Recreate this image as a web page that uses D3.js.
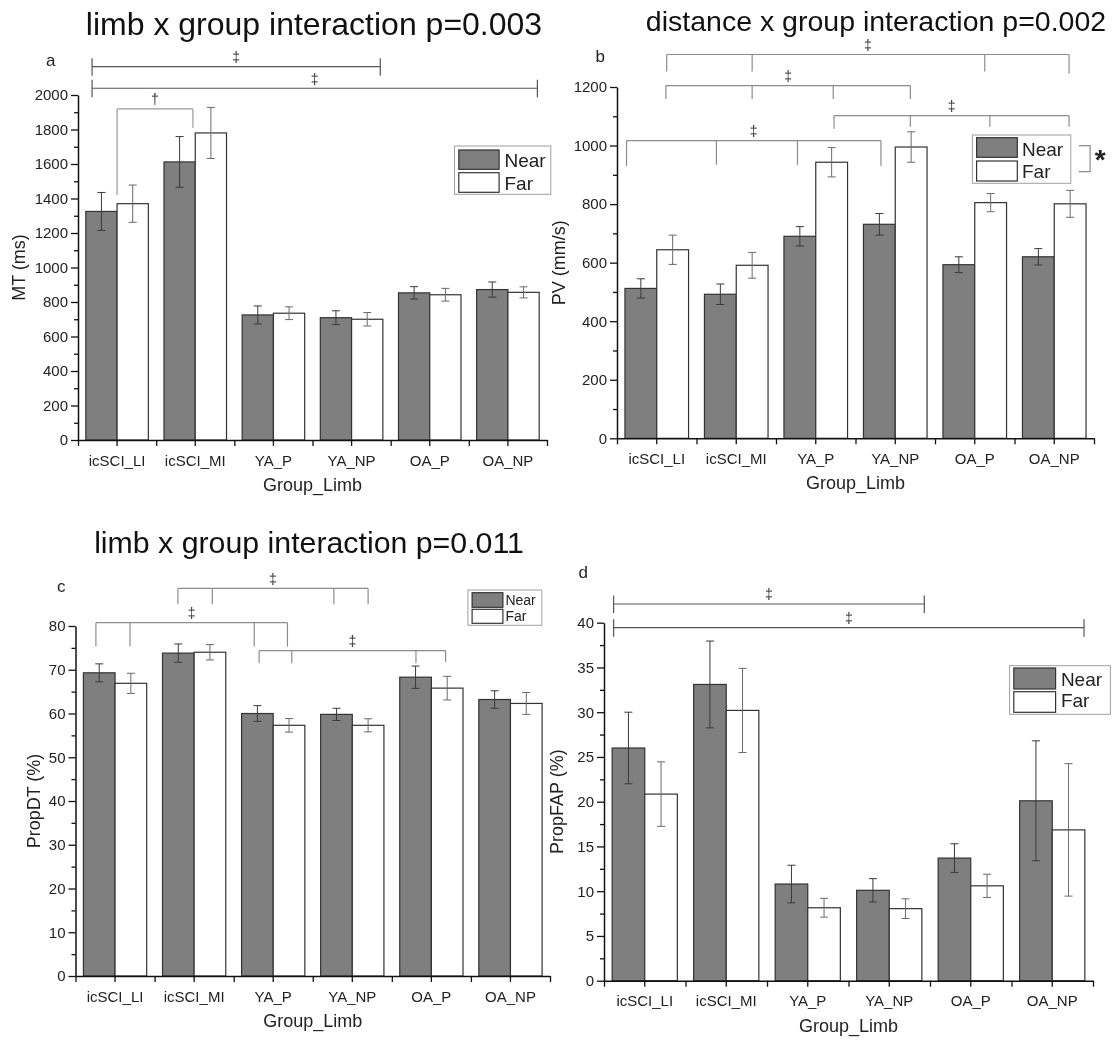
<!DOCTYPE html>
<html>
<head>
<meta charset="utf-8">
<script src="https://cdn.jsdelivr.net/npm/d3@7"></script>
<style>
  body { margin: 0; background: #fff; }
  svg { will-change: transform; }
  text { font-family: Arial, "Liberation Sans", sans-serif; }
</style>
</head>
<body>
<svg id="fig" width="1115" height="1041"></svg>
<script>
// ---- data ----
const categories = ["icSCI_LI", "icSCI_MI", "YA_P", "YA_NP", "OA_P", "OA_NP"];
const series = ["Near", "Far"];

// (a) movement time, ms
const mtNear    = [1325, 1612, 725, 709, 853, 872];
const mtNearErr = [110, 147, 52, 40, 36, 44];
const mtFar     = [1370, 1780, 735, 700, 842, 856];
const mtFarErr  = [108, 148, 37, 39, 37, 32];

// (b) peak velocity, mm/s
const pvNear    = [512, 492, 690, 731, 593, 620];
const pvNearErr = [33, 35, 33, 37, 27, 28];
const pvFar     = [644, 591, 943, 995, 805, 801];
const pvFarErr  = [50, 44, 50, 52, 31, 46];

// (c) proportion of deceleration time, %
const dtNear    = [69.3, 73.8, 60.0, 59.8, 68.3, 63.2];
const dtNearErr = [2.05, 2.1, 1.8, 1.4, 2.55, 2.0];
const dtFar     = [66.9, 74.0, 57.3, 57.3, 65.8, 62.3];
const dtFarErr  = [2.3, 1.75, 1.55, 1.5, 2.7, 2.5];

// (d) proportion of final adjustment phase, %
const fapNear    = [26.0, 33.1, 10.8, 10.1, 13.7, 20.1];
const fapNearErr = [4.0, 4.85, 2.1, 1.3, 1.6, 6.7];
const fapFar     = [20.85, 30.2, 8.15, 8.05, 10.6, 16.85];
const fapFarErr  = [3.6, 4.7, 1.05, 1.1, 1.3, 7.4];

// y-axis tick settings
const mtTicks  = { max: 2000, major: 200, minor: 100 };
const pvTicks  = { max: 1200, major: 200, minor: 100 };
const dtTicks  = { max: 80, major: 10, minor: 5 };
const fapTicks = { max: 40, major: 5, minor: 2.5 };

// significance annotations: level on the value axis, legs as [category, position in band, leg end value]
const mtSig = [
  { level: 2164, label: "\u2021", cap: true, legs: [[0, 0.18], [3, 0.867]] },
  { level: 2039, label: "\u2021", cap: true, legs: [[0, 0.18], [5, 0.877]] },
  { level: 1919, label: "\u2020", light: true, legs: [[0, 0.5, 1420], [1, 0.47, 1810]] }
];
const pvSig = [
  { level: 1311, label: "\u2021", legs: [[0, 0.625, 1253], [1, 0.70, 1253], [4, 0.626, 1253], [5, 0.686, 1245]] },
  { level: 1205, label: "\u2021", legs: [[0, 0.615, 1159], [1, 0.70, 1159], [2, 0.72, 1159], [3, 0.69, 1159]] },
  { level: 1102, label: "\u2021", legs: [[2, 0.73, 1057], [3, 0.69, 1064], [4, 0.69, 1064], [5, 0.686, 1064]] },
  { level: 1017, label: "\u2021", legs: [[0, 0.12, 930], [1, 0.25, 934], [2, 0.27, 934], [3, 0.32, 930]] }
];
const dtSig = [
  { level: 88.6, label: "\u2021", legs: [[1, 0.295, 85.0], [1, 0.73, 85.0], [3, 0.267, 85.0], [3, 0.70, 85.0]] },
  { level: 80.75, label: "\u2021", legs: [[0, 0.258, 75.3], [0, 0.689, 75.3], [2, 0.26, 75.3], [2, 0.68, 75.3]] },
  { level: 74.35, label: "\u2021", legs: [[2, 0.322, 71.5], [2, 0.735, 71.5], [4, 0.305, 71.5], [4, 0.68, 71.8]] }
];
const fapSig = [
  { level: 42.09, label: "\u2021", cap: true, legs: [[0, 0.118], [3, 0.93]] },
  { level: 39.44, label: "\u2021", cap: true, legs: [[0, 0.118], [5, 0.89]] }
];

// ---- layout ----
const panels = [
  { letter: "a", title: "limb x group interaction p=0.003", yLabel: "MT (ms)",
    near: mtNear, nearErr: mtNearErr, far: mtFar, farErr: mtFarErr, ticks: mtTicks, sig: mtSig,
    left: 78, right: 547, zeroY: 440, topY: 95,
    titleX: 314, titleY: 35, titleSize: 32, letterX: 46, letterY: 66, yLabelX: 25,
    legend: { x: 454.5, y: 146, w: 96.3, h: 48.3, sx: 458.8, sw: 40.3, nearY: 150, nearH: 19.3, farY: 172.7, farH: 19.6, tx: 504.5, b1: 166.5, b2: 189.5, fs: 19 } },
  { letter: "b", title: "distance x group interaction p=0.002", yLabel: "PV (mm/s)",
    near: pvNear, nearErr: pvNearErr, far: pvFar, farErr: pvFarErr, ticks: pvTicks, sig: pvSig,
    left: 617, right: 1094, zeroY: 438.3, topY: 87,
    titleX: 876, titleY: 31, titleSize: 28.5, letterX: 595.5, letterY: 61.5, yLabelX: 565,
    legend: { x: 972.4, y: 135, w: 98.4, h: 48.3, sx: 976.6, sw: 40.7, nearY: 137.7, nearH: 19.6, farY: 161, farH: 20, tx: 1022, b1: 156, b2: 178, fs: 19 },
    sideMark: true },
  { letter: "c", title: "limb x group interaction p=0.011", yLabel: "PropDT (%)",
    near: dtNear, nearErr: dtNearErr, far: dtFar, farErr: dtFarErr, ticks: dtTicks, sig: dtSig,
    left: 75.5, right: 550, zeroY: 976, topY: 626,
    titleX: 309, titleY: 553, titleSize: 30.3, letterX: 57, letterY: 591.5, yLabelX: 40,
    legend: { x: 467.9, y: 590, w: 73.9, h: 35.3, sx: 472.1, sw: 30.8, nearY: 592.7, nearH: 14.6, farY: 609.3, farH: 14, tx: 505.4, b1: 605, b2: 621, fs: 14 } },
  { letter: "d", title: null, yLabel: "PropFAP (%)",
    near: fapNear, nearErr: fapNearErr, far: fapFar, farErr: fapFarErr, ticks: fapTicks, sig: fapSig,
    left: 604, right: 1093, zeroY: 980.7, topY: 622.7,
    letterX: 578.5, letterY: 578.3, yLabelX: 563,
    legend: { x: 1009.6, y: 665.7, w: 100.8, h: 48.6, sx: 1013.8, sw: 41.8, nearY: 668, nearH: 21, farY: 691.7, farH: 20.6, tx: 1060.9, b1: 686, b2: 707, fs: 19 } }
];

const svg = d3.select("#fig");
const NEAR_FILL = "#7f7f7f";
const BAR_STROKE = "#333";

function drawPanel(p) {
  const g = svg.append("g");
  const x = d3.scaleBand().domain(categories).range([p.left, p.right]).paddingInner(0).paddingOuter(0);
  const xs = d3.scaleBand().domain(series).range([0, x.bandwidth()]).paddingInner(0).paddingOuter(0.25);
  const y = d3.scaleLinear().domain([0, p.ticks.max]).range([p.zeroY, p.topY]);
  const pos = (ci, f) => x(categories[ci]) + f * x.bandwidth();

  const rows = [];
  categories.forEach((c, i) => {
    rows.push({ c, s: "Near", v: p.near[i], e: p.nearErr[i] });
    rows.push({ c, s: "Far", v: p.far[i], e: p.farErr[i] });
  });

  // bars
  g.append("g").selectAll("rect").data(rows).join("rect")
    .attr("x", d => x(d.c) + xs(d.s))
    .attr("y", d => y(d.v))
    .attr("width", xs.bandwidth())
    .attr("height", d => y(0) - y(d.v))
    .attr("fill", d => d.s === "Near" ? NEAR_FILL : "#fff")
    .attr("stroke", BAR_STROKE)
    .attr("stroke-width", 1.2);

  // error bars
  const eb = g.append("g").selectAll("g").data(rows).join("g")
    .attr("stroke", d => d.s === "Near" ? "#3a3a3a" : "#6a6a6a")
    .attr("stroke-width", 1)
    .attr("transform", d => `translate(${x(d.c) + xs(d.s) + xs.bandwidth() / 2},0)`);
  eb.append("line").attr("x1", 0).attr("x2", 0)
    .attr("y1", d => y(d.v + d.e)).attr("y2", d => y(d.v - d.e));
  eb.append("line").attr("x1", -4).attr("x2", 4)
    .attr("y1", d => y(d.v + d.e)).attr("y2", d => y(d.v + d.e));
  eb.append("line").attr("x1", -4).attr("x2", 4)
    .attr("y1", d => y(d.v - d.e)).attr("y2", d => y(d.v - d.e));

  // y axis
  const majors = d3.range(0, p.ticks.max + 1e-9, p.ticks.major);
  const minors = d3.range(p.ticks.minor, p.ticks.max, p.ticks.major);
  g.append("g").attr("transform", `translate(${p.left},0)`)
    .call(d3.axisLeft(y).tickValues(majors).tickSize(7).tickSizeOuter(0).tickPadding(3)
      .tickFormat(d3.format("~g")));
  g.append("g").attr("transform", `translate(${p.left},0)`)
    .call(d3.axisLeft(y).tickValues(minors).tickSize(4).tickSizeOuter(0).tickFormat(""))
    .call(s => s.select(".domain").remove());

  // x axis: category labels with ticks at band centres, plus ticks at band edges
  g.append("g").attr("transform", `translate(0,${p.zeroY})`)
    .call(d3.axisBottom(x).tickSize(6).tickSizeOuter(0).tickPadding(9));
  const edge = d3.scaleLinear().domain([0, categories.length]).range([p.left, p.right]);
  g.append("g").attr("transform", `translate(0,${p.zeroY})`)
    .call(d3.axisBottom(edge).tickValues(d3.range(0, categories.length + 1)).tickSize(6).tickSizeOuter(0).tickFormat(""))
    .call(s => s.select(".domain").remove());

  g.selectAll(".domain").attr("stroke", "#111").attr("stroke-width", 1.5);
  g.selectAll(".tick line").attr("stroke", "#111").attr("stroke-width", 1.3);
  g.selectAll(".tick text").attr("font-size", 15).attr("fill", "#222")
    .attr("font-family", 'Arial, "Liberation Sans", sans-serif');

  // axis titles
  g.append("text").attr("x", (p.left + p.right) / 2).attr("y", p.zeroY + 51)
    .attr("text-anchor", "middle").attr("font-size", 18).attr("fill", "#222").text("Group_Limb");
  g.append("text").attr("transform", `translate(${p.yLabelX},${(p.zeroY + p.topY) / 2}) rotate(-90)`)
    .attr("text-anchor", "middle").attr("font-size", 18).attr("fill", "#222").text(p.yLabel);

  // panel letter and title
  g.append("text").attr("x", p.letterX).attr("y", p.letterY).attr("font-size", 17).attr("fill", "#222").text(p.letter);
  if (p.title) {
    g.append("text").attr("x", p.titleX).attr("y", p.titleY).attr("text-anchor", "middle")
      .attr("font-size", p.titleSize).attr("fill", "#111").text(p.title);
  }

  // significance brackets
  p.sig.forEach(s => {
    const col = s.light ? "#9a9a9a" : (s.cap ? "#555" : "#8c8c8c");
    const yl = y(s.level);
    const xsLeg = s.legs.map(l => pos(l[0], l[1]));
    const x0 = d3.min(xsLeg), x1 = d3.max(xsLeg);
    const sg = g.append("g").attr("stroke", col).attr("stroke-width", 1.2).attr("fill", "none");
    sg.append("line").attr("x1", x0).attr("x2", x1).attr("y1", yl).attr("y2", yl);
    s.legs.forEach((l, i) => {
      const lx = xsLeg[i];
      if (s.cap) {
        sg.append("line").attr("x1", lx).attr("x2", lx).attr("y1", yl - 8.5).attr("y2", yl + 9);
      } else {
        sg.append("line").attr("x1", lx).attr("x2", lx).attr("y1", yl).attr("y2", y(l[2]));
      }
    });
    g.append("text").attr("x", (x0 + x1) / 2).attr("y", yl - 9.5)
      .attr("text-anchor", "middle").attr("dominant-baseline", "central")
      .attr("font-size", 14).attr("fill", "#333").text(s.label);
  });

  // legend
  const L = p.legend;
  const lg = g.append("g");
  lg.append("rect").attr("x", L.x).attr("y", L.y).attr("width", L.w).attr("height", L.h)
    .attr("fill", "#fff").attr("stroke", "#a0a0a0").attr("stroke-width", 1);
  lg.append("rect").attr("x", L.sx).attr("y", L.nearY).attr("width", L.sw).attr("height", L.nearH)
    .attr("fill", NEAR_FILL).attr("stroke", BAR_STROKE).attr("stroke-width", 1.2);
  lg.append("rect").attr("x", L.sx).attr("y", L.farY).attr("width", L.sw).attr("height", L.farH)
    .attr("fill", "#fff").attr("stroke", BAR_STROKE).attr("stroke-width", 1.2);
  lg.append("text").attr("x", L.tx).attr("y", L.b1).attr("font-size", L.fs).attr("fill", "#222").text(series[0]);
  lg.append("text").attr("x", L.tx).attr("y", L.b2).attr("font-size", L.fs).attr("fill", "#222").text(series[1]);

  if (p.sideMark) {
    const bx0 = L.x + L.w + 8, bx1 = bx0 + 11.3;
    const ya0 = L.y + 10.7, ya1 = L.y + 36.7;
    lg.append("path").attr("d", `M${bx0},${ya0}H${bx1}V${ya1}H${bx0}`)
      .attr("fill", "none").attr("stroke", "#8c8c8c").attr("stroke-width", 1.2);
    lg.append("text").attr("x", bx1 + 10).attr("y", (ya0 + ya1) / 2 + 10)
      .attr("text-anchor", "middle").attr("font-size", 28).attr("font-weight", "bold").attr("fill", "#222").text("*");
  }
}

panels.forEach(drawPanel);
</script>
</body>
</html>
